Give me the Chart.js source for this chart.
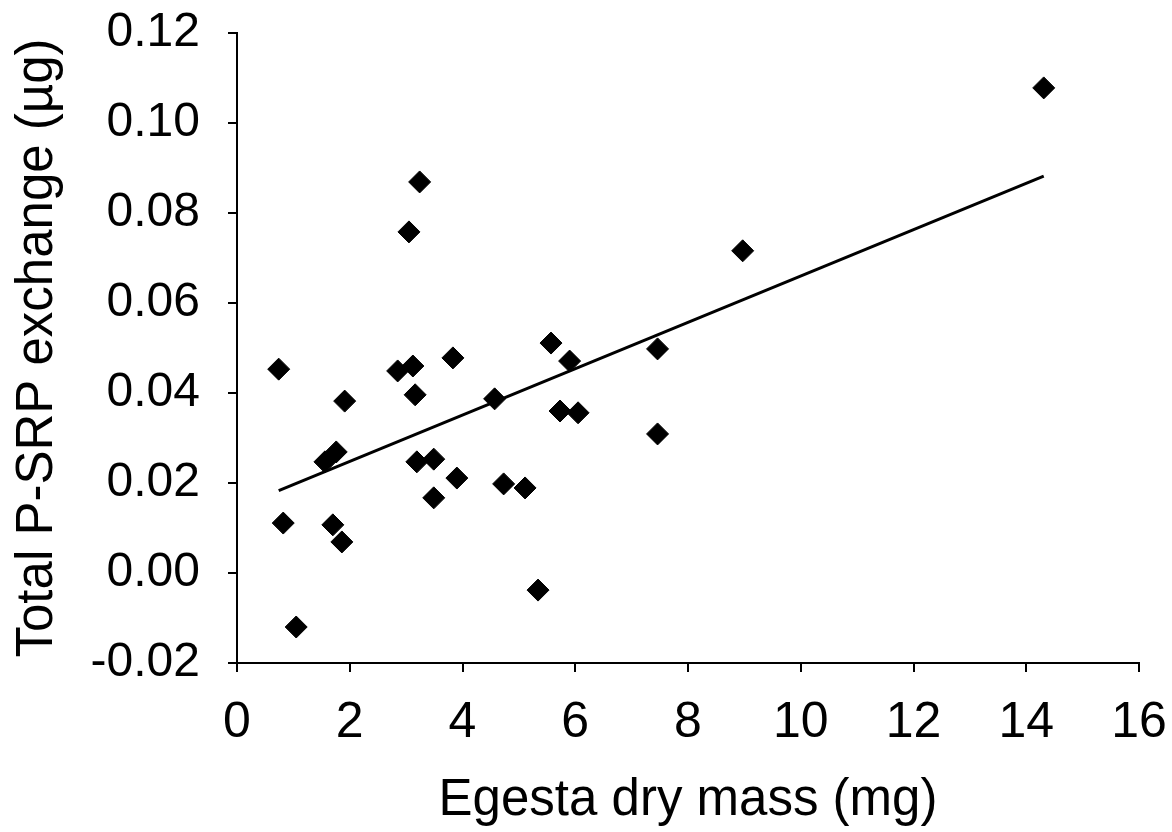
<!DOCTYPE html>
<html>
<head>
<meta charset="utf-8">
<title>Egesta dry mass vs P-SRP exchange</title>
<script src="https://cdn.jsdelivr.net/npm/chart.js@4.4.1/dist/chart.umd.min.js"></script>
<style>
  html, body { margin: 0; padding: 0; background: #fff; }
  #wrap { width: 1172px; height: 832px; position: relative; }
</style>
</head>
<body>
<div id="wrap"><canvas id="scatterChart"></canvas></div>
<script>
// Valeurs
const egestaMass = [0.74, 0.82, 1.05, 1.56, 1.76, 1.70, 1.86, 1.91, 2.85, 3.12,
                    3.16, 3.05, 3.24, 3.83, 4.57, 5.57, 5.90, 5.73, 6.05, 3.19,
                    3.49, 3.49, 3.90, 4.73, 5.11, 5.34, 7.46, 7.46, 8.97, 14.31];
const pExchange = [0.0453, 0.0111, -0.0120, 0.0247, 0.0269, 0.0107, 0.0069, 0.0382, 0.0449, 0.0460,
                   0.0396, 0.0758, 0.0869, 0.0478, 0.0387, 0.0511, 0.0471, 0.0360, 0.0356, 0.0247,
                   0.0253, 0.0167, 0.0211, 0.0198, 0.0189, -0.0038, 0.0498, 0.0309, 0.0716, 0.1078];

// droite de régression (extrémités)
const trendX = [0.74, 14.31];
const trendY = [0.0183, 0.0882];

const xTicks = [0, 2, 4, 6, 8, 10, 12, 14, 16];
const yTicks = [-0.02, 0.00, 0.02, 0.04, 0.06, 0.08, 0.10, 0.12];

const FONT = "'Liberation Sans', Arial, sans-serif";

document.addEventListener('DOMContentLoaded', () => {
    createScatter();
});

function createScatter() {
    const ctx = document.getElementById('scatterChart');
    if (!ctx) return;

    const points = egestaMass.map((x, i) => ({ x: x, y: pExchange[i] }));
    const trend = trendX.map((x, i) => ({ x: x, y: trendY[i] }));

    new Chart(ctx, {
        type: 'scatter',
        data: {
            datasets: [{
                label: 'Data',
                data: points,
                pointStyle: 'rectRot',
                pointRadius: 11,
                backgroundColor: '#000',
                borderColor: '#000',
                borderWidth: 1
            }, {
                label: 'Trend',
                type: 'line',
                data: trend,
                showLine: true,
                pointRadius: 0,
                borderColor: '#000',
                borderWidth: 3,
                fill: false
            }]
        },
        options: {
            responsive: true,
            maintainAspectRatio: false,
            animation: false,
            layout: { padding: { left: 3, right: 33, top: 33, bottom: 0 } },
            plugins: {
                legend: { display: false },
                tooltip: { enabled: false }
            },
            scales: {
                x: {
                    type: 'linear',
                    min: 0,
                    max: 16,
                    afterBuildTicks: s => { s.ticks = xTicks.map(v => ({ value: v })); },
                    // pas de marge automatique, positions fixées
                    afterFit: s => { s.height = 169; s.paddingLeft = 0; s.paddingRight = 0; },
                    grid: { drawOnChartArea: false, drawTicks: true, tickLength: 9, color: '#000', lineWidth: 2 },
                    border: { color: '#000', width: 2 },
                    ticks: { color: '#000', padding: 21, font: { family: FONT, size: 50 }, maxRotation: 0 },
                    title: {
                        display: true, text: 'Egesta dry mass (mg)', color: '#000',
                        padding: { top: 4, bottom: 0 },
                        font: { family: FONT, size: 51 }
                    }
                },
                y: {
                    type: 'linear',
                    min: -0.02,
                    max: 0.12,
                    afterBuildTicks: s => { s.ticks = yTicks.map(v => ({ value: v })); },
                    afterFit: s => { s.width = 234; s.paddingTop = 0; s.paddingBottom = 0; },
                    grid: { drawOnChartArea: false, drawTicks: true, tickLength: 9, color: '#000', lineWidth: 2 },
                    border: { color: '#000', width: 2 },
                    ticks: {
                        color: '#000',
                        padding: 28,
                        font: { family: FONT, size: 48 },
                        callback: v => v.toFixed(2)
                    },
                    title: { display: true, text: 'Total P-SRP exchange (µg)', color: '#000', font: { family: FONT, size: 51 } }
                }
            }
        }
    });
}
</script>
</body>
</html>
